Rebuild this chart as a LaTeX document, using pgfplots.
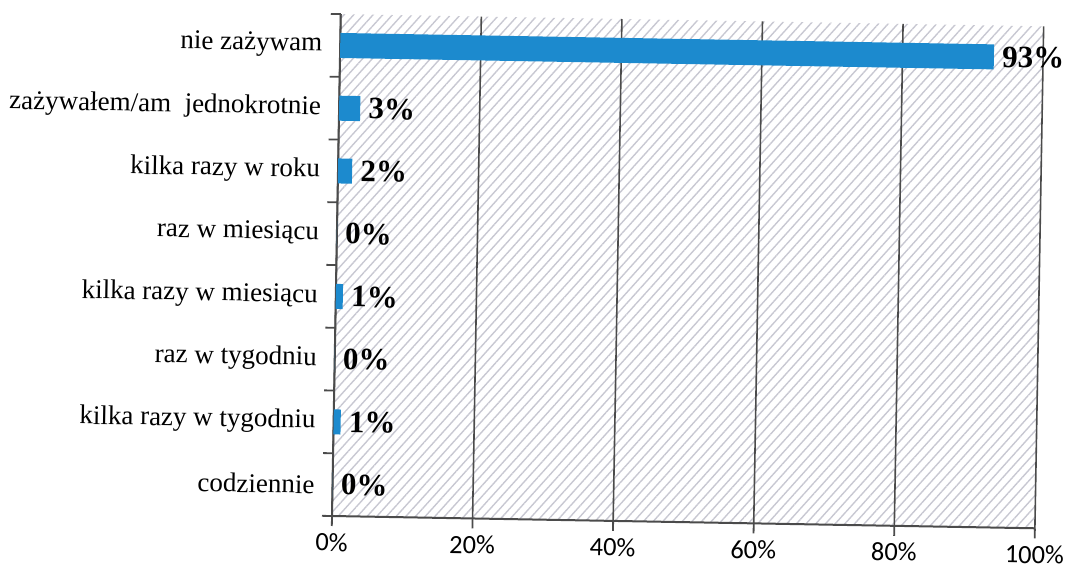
\documentclass[border=0pt]{standalone}
\usepackage{pgfplots}
\pgfplotsset{compat=1.18}
\usepackage{fontspec}
\setmainfont{Liberation Serif}
\newfontfamily\tickfont{Carlito}
\usetikzlibrary{patterns.meta}

\definecolor{barblue}{RGB}{28,138,206}
\definecolor{hatch}{RGB}{200,200,210}
\definecolor{gridgray}{RGB}{75,75,75}

\begin{document}
\begin{tikzpicture}
% the printed sheet sits about one degree off square
\begin{scope}[transform canvas={rotate=-1}]
\begin{axis}[
    at={(0,0)}, anchor=south west,
    xbar,
    scale only axis,
    width=351.5pt,
    height=251pt,
    xmin=0, xmax=100,
    ymin=-0.5, ymax=7.5,
    bar width=12.5pt,
    axis x line*=bottom,
    axis y line*=left,
    axis line style={gridgray, line width=1pt, -},
    xtick={0,20,40,60,80,100},
    xticklabel={\tickfont\pgfmathprintnumber[assume math mode=true]{\tick}\%},
    xticklabel style={font=\fontsize{13.2}{15}\selectfont, yshift=0pt},
    xmajorgrids,
    major grid style={gridgray, line width=0.8pt},
    tick style={gridgray, line width=0.9pt},
    major tick length=5pt,
    tick align=outside,
    % tick marks between the categories
    ytick={-0.5,0.5,...,7.5},
    yticklabels={},
    % category names, without marks
    extra y ticks={0,...,7},
    extra y tick labels={codziennie, kilka razy w tygodniu, raz w tygodniu,
      kilka razy w miesiącu, raz w miesiącu, kilka razy w roku,
      zażywałem/am\ \ jednokrotnie, nie zażywam},
    extra y tick style={major tick length=0pt,
      yticklabel style={font=\fontsize{13.5}{15}\selectfont, xshift=-5.5pt}},
    axis background/.style={
      pattern={Lines[angle=48, distance=3.6pt, line width=0.7pt]},
      pattern color=hatch},
    nodes near coords={\pgfmathprintnumber[assume math mode=true]{\pgfplotspointmeta}\%},
    nodes near coords style={font=\bfseries\fontsize{15.5}{17}\selectfont,
      anchor=west, inner sep=4pt},
    clip=false,
]
\addplot[fill=barblue, draw=none] coordinates {
    (0,0) (1,1) (0,2) (1,3) (0,4) (2,5) (3,6) (93,7)
};
\end{axis}
\end{scope}
\pgfresetboundingbox
\path (-166pt,-26.5pt) rectangle (367.5pt,258pt);
\end{tikzpicture}
\end{document}
